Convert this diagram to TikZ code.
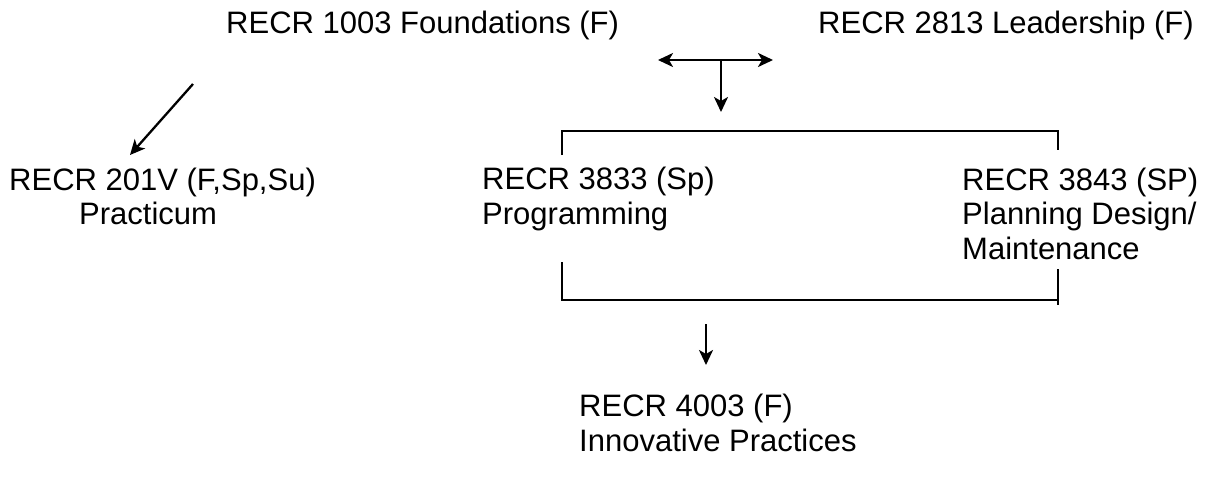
\documentclass[tikz,border=0pt]{standalone}
\usepackage{fontspec}
\setmainfont{Liberation Sans}
\usetikzlibrary{arrows.meta}
\tikzset{
    course/.style={inner sep=0pt, anchor=base west, align=left,
        font=\fontsize{31}{34.5}\selectfont},
    link/.style={line width=2.3pt},
    >={Stealth[length=15pt,width=14pt,inset=4pt]}
}

\begin{document}
\begin{tikzpicture}[x=1pt,y=-1pt]
    \useasboundingbox (0,0) rectangle (1208,480);
    % courses (multi-line nodes sit on their last baseline)
    \node (foundations) at (226,33)  [course] {RECR 1003 Foundations (F)};
    \node (leadership)  at (818,33)  [course] {RECR 2813 Leadership (F)};
    \node (practicum)   at (9,190)   [course] {RECR 201V (F,Sp,Su)};
    \node (practicumb)  at (79,224)  [course] {Practicum};
    \node (programming) at (482,224) [course] {RECR 3833 (Sp)\\Programming};
    \node (planning)    at (962,259) [course] {RECR 3843 (SP)\\Planning Design/\\Maintenance};
    \node (innovative)  at (579,451) [course] {RECR 4003 (F)\\Innovative Practices};
    % connector ends
    \coordinate (diagtop) at (193,84);
    \coordinate (diagend) at (130,155);
    \coordinate (pairl) at (658,60);
    \coordinate (pairr) at (773,60);
    \coordinate (pairm) at (721,60);
    \coordinate (pairdown) at (721,112);
    \coordinate (uptl) at (562,155);
    \coordinate (uptr) at (1058,150);
    \coordinate (lowl) at (562,262);
    \coordinate (lowr) at (1058,269);
    \coordinate (lowm) at (706,324);
    \coordinate (lowdown) at (706,365);
    % arrows and brackets
    \draw[link,->] (diagtop) -- (diagend);
    \draw[link,<->] (pairl) -- (pairr);
    \draw[link,->] (pairm) -- (pairdown);
    \draw[link] (uptl) |- (1058,131) -- (uptr);
    \draw[link] (lowl) |- (1058,300);
    \draw[link] (lowr) -- (1058,305);
    \draw[link,->] (lowm) -- (lowdown);
\end{tikzpicture}
\end{document}
